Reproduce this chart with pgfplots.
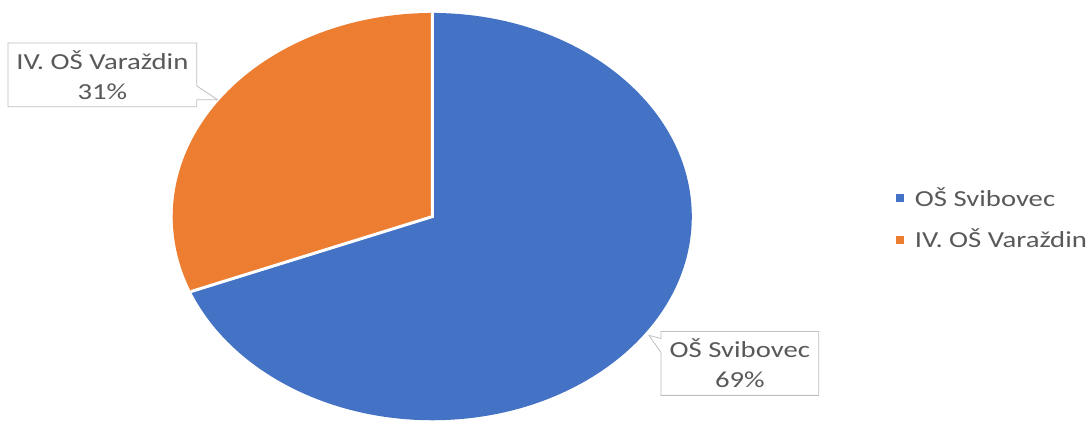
\documentclass[border=0pt]{standalone}
\usepackage{pgfplots}
\pgfplotsset{compat=1.18}
\usepackage{pgfplotstable}
\usepackage{fontspec}
\setmainfont{Carlito}
\usetikzlibrary{shapes.callouts}

\definecolor{pieblue}{HTML}{4472C4}
\definecolor{pieorange}{HTML}{ED7D31}
\definecolor{txtgray}{HTML}{595959}
\definecolor{boxgray}{HTML}{BFBFBF}
\newcommand\labfont{\fontsize{11.5}{15}\selectfont}
\newcommand\sx[1]{\scalebox{1.25}[1]{#1}}

% udio ucenika po skoli (%)
\pgfplotstableread[col sep=comma]{
label,value
OŠ Svibovec,69
IV. OŠ Varaždin,31
}\piedata
\pgfplotstablegetelem{0}{value}\of\piedata\let\va\pgfplotsretval
\pgfplotstablegetelem{1}{value}\of\piedata\let\vb\pgfplotsretval
% first slice starts at 12 o'clock, clockwise
\pgfmathsetmacro\angb{90-3.6*\va}
\pgfmathsetmacro\ango{\angb-3.6*\vb}
\pgfmathsetmacro\cbx{cos(\angb)}
\pgfmathsetmacro\cby{sin(\angb)}

\begin{document}
\begin{tikzpicture}
\begin{axis}[
    hide axis,
    scale only axis,
    x=130pt, y=102pt,
    xmin=-1.6654, xmax=2.5308,
    ymin=-1.0049, ymax=1.0637,
    clip=false,
    legend style={
        at={(axis cs:1.785,-0.012)}, anchor=west,
        draw=none, fill=none, font=\labfont, text=txtgray,
        row sep=6pt, inner sep=0pt,
    },
    legend cell align=left,
]
\path (rel axis cs:0,0) rectangle (rel axis cs:1,1);

% slices
\fill[pieblue] (axis cs:0,0) -- (axis cs:0,1)
    arc[start angle=90, end angle=\angb, x radius=130pt, y radius=102pt] -- cycle;
\fill[pieorange] (axis cs:0,0) -- (axis cs:\cbx,\cby)
    arc[start angle=\angb, end angle=\ango, x radius=130pt, y radius=102pt] -- cycle;
\draw[white, line width=1.5pt] (axis cs:0,1) -- (axis cs:0,0) -- (axis cs:\cbx,\cby);

% data labels
\node[rectangle callout, draw=boxgray, fill=white, text=txtgray, align=center,
      minimum width=94.5pt, minimum height=32pt, inner sep=0pt, font=\labfont,
      callout absolute pointer={(axis cs:-0.827,0.574)}, callout pointer width=7pt]
    at (axis cs:-1.271,0.696) {\sx{IV. OŠ Varaždin}\\\sx{\vb\%}};
\node[rectangle callout, draw=boxgray, fill=white, text=txtgray, align=center,
      minimum width=79pt, minimum height=32pt, inner sep=0pt, font=\labfont,
      callout absolute pointer={(axis cs:0.835,-0.583)}, callout pointer width=7pt]
    at (axis cs:1.185,-0.721) {\sx{OŠ Svibovec}\\\sx{\va\%}};

% legend
\addlegendimage{legend image code/.code={\fill[pieblue] (0pt,-1.8pt) rectangle (3.6pt,1.8pt);}}
\addlegendentry{\hspace{3.5pt}\sx{OŠ Svibovec}}
\addlegendimage{legend image code/.code={\fill[pieorange] (0pt,-1.8pt) rectangle (3.6pt,1.8pt);}}
\addlegendentry{\hspace{3.5pt}\sx{IV. OŠ Varaždin}}
\end{axis}
\end{tikzpicture}
\end{document}
